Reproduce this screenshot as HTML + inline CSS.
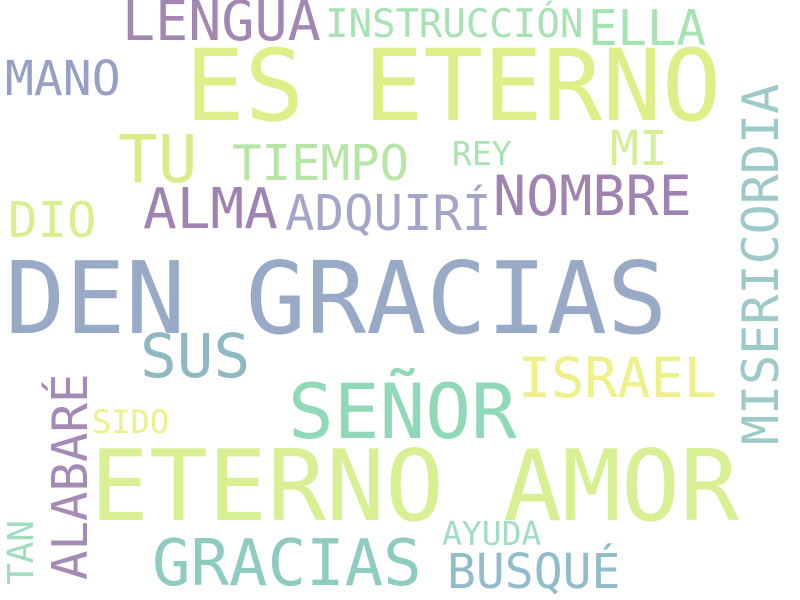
<!DOCTYPE html>
<html><head><meta charset="utf-8"><style>
html,body{margin:0;padding:0;background:#fff;}
svg{display:block;}
text{font-family:"DejaVu Sans Mono","Liberation Mono",monospace;}
</style></head><body>
<svg id="cloud" width="800" height="600" viewBox="0 0 800 600" xmlns="http://www.w3.org/2000/svg">
<rect width="800" height="600" fill="#ffffff"/>
</svg>
<script>
const words = ["DEN GRACIAS","ES ETERNO","ETERNO AMOR","SEÑOR","GRACIAS","NOMBRE","ALMA","ADQUIRÍ","LENGUA","INSTRUCCIÓN","ELLA","MANO","TU","TIEMPO","REY","MI","DIO","SUS","ISRAEL","MISERICORDIA","ALABARÉ","TAN","SIDO","AYUDA","BUSQUÉ"];
const sizes = [100,99,98,76,64,55,56,49,55,39,49,48,66,49,33,48,49,61,55,50,49,36,32,33,48];
const colors = ["#98aac5","#e0ee8a","#d8ef94","#8fd8b8","#8ecbc0","#a083b0","#9f84b3","#a5a5c8","#a287b3","#a7e2b4","#a5e3b0","#979fc6","#dceb8a","#b7e5a6","#a9e2b3","#d6ee9a","#d8ef90","#8fb8c5","#eef08a","#9dcac8","#a48ab5","#9fdcc0","#eef08a","#a3dcc3","#92bcc8"];
const xs = [5,185,90,288,152,493,143,285,122,325,588,5,118,232,452,610,8,140,518,778,87,33,92,442,447];
const ys = [333,120,520,438,585,215,228,230,40,37,45,95,182,180,165,165,237,377,397,445,580,585,433,545,588];
const vertical = [0,0,0,0,0,0,0,0,0,0,0,0,0,0,0,0,0,0,0,1,1,1,0,0,0];
const svg = document.getElementById('cloud');
const NS = "http://www.w3.org/2000/svg";
for (let i = 0; i < words.length; i++) {
  const t = document.createElementNS(NS, 'text');
  
  
  t.setAttribute('font-size', sizes[i]);
  t.setAttribute('fill', colors[i]);
  t.setAttribute('textLength', (sizes[i] * 0.602 * words[i].length).toFixed(1));
  if (vertical[i]) {
    t.setAttribute('x', 0); t.setAttribute('y', 0);
    t.setAttribute('transform', 'translate(' + xs[i] + ',' + ys[i] + ') rotate(-90)');
  } else {
    t.setAttribute('x', xs[i]); t.setAttribute('y', ys[i]);
  }
  t.textContent = words[i];
  svg.appendChild(t);
}
</script>
</body></html>
